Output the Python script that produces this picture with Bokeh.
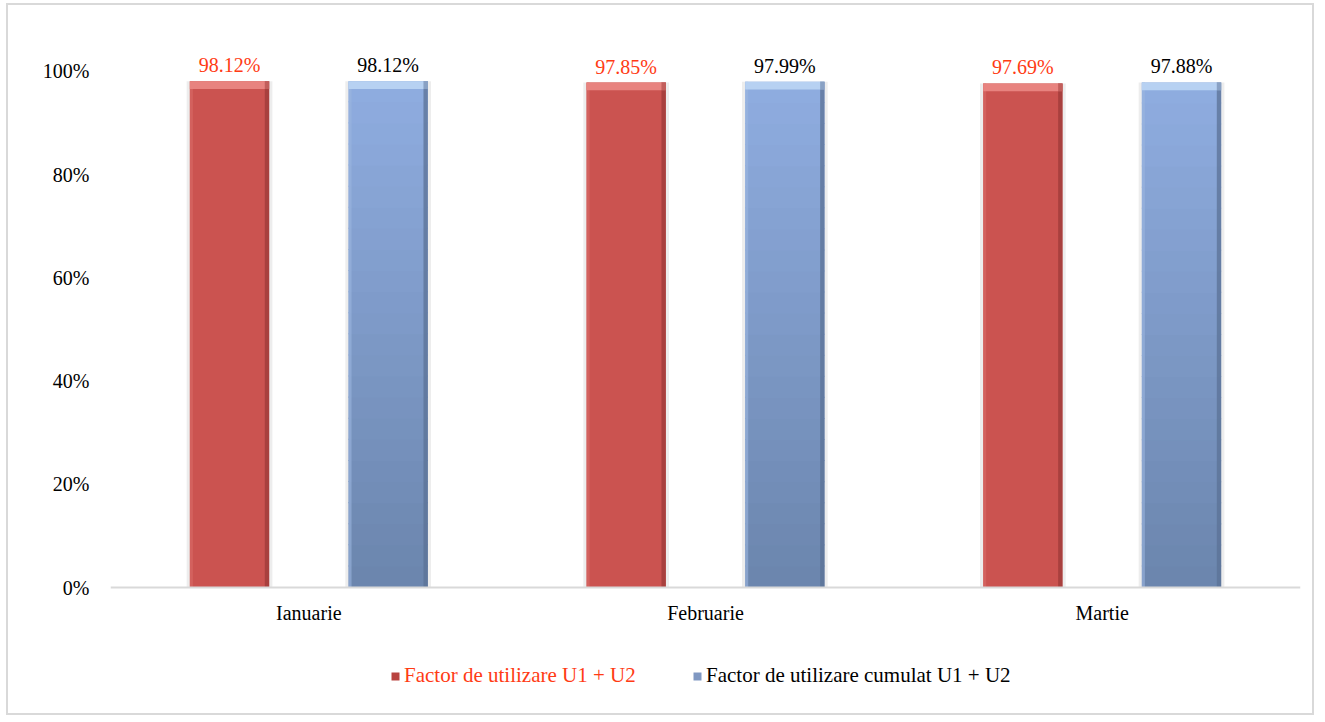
from bokeh.plotting import figure
from bokeh.models import (ColumnDataSource, FixedTicker, Legend, LegendItem, Range1d, FactorRange, Span)
from bokeh.transform import dodge
from bokeh.core.properties import value
from bokeh.embed import file_html
from bokeh.resources import INLINE

months = ["Ianuarie", "Februarie", "Martie"]
factor_u = [0.9812, 0.9785, 0.9769]
factor_cumulat = [0.9812, 0.9799, 0.9788]
labels_u = ["98.12%", "97.85%", "97.69%"]
labels_cumulat = ["98.12%", "97.99%", "97.88%"]
y_ticks = [0, 0.2, 0.4, 0.6, 0.8, 1.0]
y_tick_labels = ["0%", "20%", "40%", "60%", "80%", "100%"]
series_names = ["Factor de utilizare U1 + U2", "Factor de utilizare cumulat U1 + U2"]

FONT = "Liberation Serif"
RED_TXT = "#FF3B14"

p = figure(width=1308, height=712, x_range=FactorRange(*months, range_padding=0),
           y_range=Range1d(-0.248, 1.1085), output_backend="svg", toolbar_location=None,
           min_border_left=102, min_border_right=16, min_border_top=10, min_border_bottom=2,
           styles={"border": "2px solid #D9D9D9", "margin-left": "6px", "margin-top": "3px"})
p.outline_line_color = None
p.xgrid.grid_line_color = None
p.ygrid.grid_line_color = None
p.background_fill_color = "white"
p.border_fill_color = "white"
p.xaxis.visible = False

src = ColumnDataSource(dict(m=months, u=factor_u, c=factor_cumulat, lu=labels_u, lc=labels_cumulat,
                            zero=[0] * len(months)))

BW = 0.2
OFF = 0.2
band = 0.015          # bevel band height in data units
edge = 0.011          # side edge width in category units

def bar(offset, key, main, top_col, left_col, right_col, gradient=None):
    xd = dodge("m", offset, range=p.x_range)
    # shadow
    p.vbar(x=xd, width=BW + 0.016, top=key, bottom=0, source=src, fill_color="#EBEBEB",
           line_color=None, fill_alpha=0.9)
    if gradient is None:
        p.vbar(x=xd, width=BW, top=key, bottom=0, source=src, fill_color=main, line_color=None)
    else:
        n = len(gradient)
        for i, col in enumerate(gradient):
            lo = [v * i / n for v in src.data[key]]
            hi = [min(v * (i + 1) / n + 0.002, v) for v in src.data[key]]
            s = ColumnDataSource(dict(m=months, lo=lo, hi=hi))
            p.vbar(x=dodge("m", offset, range=p.x_range), width=BW, top="hi", bottom="lo", source=s,
                   fill_color=col, line_color=None)
    # left light strip
    p.vbar(x=dodge("m", offset - BW / 2 + edge * 0.35, range=p.x_range), width=edge * 0.7, top=key,
           bottom=0, source=src, fill_color=left_col, line_color=None, fill_alpha=0.6)
    # right dark strip
    p.vbar(x=dodge("m", offset + BW / 2 - edge / 2, range=p.x_range), width=edge, top=key,
           bottom=0, source=src, fill_color=right_col, line_color=None, fill_alpha=0.75)
    # top bevel band
    tb = ColumnDataSource(dict(m=months, t=src.data[key], b=[v - band for v in src.data[key]]))
    p.vbar(x=xd, width=BW, top="t", bottom="b", source=tb, fill_color=top_col, line_color=None)
    p.vbar(x=dodge("m", offset + BW / 2 - edge / 2, range=p.x_range), width=edge, top="t", bottom="b",
           source=tb, fill_color=right_col, line_color=None, fill_alpha=0.5)

bar(-OFF, "u", "#CB5350", "#E8837F", "#D86B68", "#9C3A38")

blue_grad = []
top_c = (0x6C, 0x86, 0xAE)
bot_c = (0x8E, 0xAC, 0xDF)
N = 24
for i in range(N):
    t = i / (N - 1)
    c = tuple(int(round(top_c[k] + (bot_c[k] - top_c[k]) * t)) for k in range(3))
    blue_grad.append("#%02X%02X%02X" % c)
bar(OFF, "c", "#87A2D0", "#B7D1F2", "#9BB5E0", "#5B7196", gradient=blue_grad)

# baseline (category axis line)
p.add_layout(Span(location=0, dimension="width", line_color="#D9D9D9", line_width=2))

# category labels
p.text(x="m", y="zero", text="m", source=src, y_offset=14, text_align="center",
       text_baseline="top", text_font=value(FONT), text_font_size="20px", text_color="black")

# value labels
p.text(x=dodge("m", -OFF, range=p.x_range), y="u", text="lu", source=src, y_offset=-5,
       text_align="center", text_baseline="bottom", text_font=value(FONT),
       text_font_size="20px", text_color=RED_TXT)
p.text(x=dodge("m", OFF, range=p.x_range), y="c", text="lc", source=src, y_offset=-5,
       text_align="center", text_baseline="bottom", text_font=value(FONT),
       text_font_size="20px", text_color="black")

# y axis
p.yaxis.ticker = FixedTicker(ticks=y_ticks)
p.yaxis.major_label_overrides = {t: l for t, l in zip(y_ticks, y_tick_labels)}
p.yaxis.axis_line_color = None
p.yaxis.major_tick_line_color = None
p.yaxis.minor_tick_line_color = None
p.yaxis.major_tick_out = 0
p.yaxis.major_tick_in = 0
p.yaxis.major_label_standoff = 21
p.yaxis.major_label_text_font = FONT
p.yaxis.major_label_text_font_size = "20px"
p.yaxis.major_label_text_color = "black"

# legend (zero-height proxy bars so that the legend swatches are drawn)
r1 = p.vbar(x="m", top="zero", bottom="zero", width=0.1, source=src,
            fill_color="#B8433F", line_color="#8E302D", line_width=1)
r2 = p.vbar(x="m", top="zero", bottom="zero", width=0.1, source=src,
            fill_color="#8098C2", line_color="#62779C", line_width=1)
r1.glyph.line_alpha = 0.0
r2.glyph.line_alpha = 0.0

def mk_legend(r, name, color, x):
    lg = Legend(items=[LegendItem(label=name, renderers=[r])], location=(x, 27),
                orientation="horizontal", padding=0, margin=0, spacing=0,
                glyph_width=10, glyph_height=10, label_standoff=4,
                label_text_font=FONT, label_text_font_size="21px", label_text_color=color,
                border_line_color=None, background_fill_alpha=0)
    p.add_layout(lg, "center")

mk_legend(r1, series_names[0], RED_TXT, 280)
mk_legend(r2, series_names[1], "black", 582)

open("out.html", "w").write(file_html(p, INLINE))
